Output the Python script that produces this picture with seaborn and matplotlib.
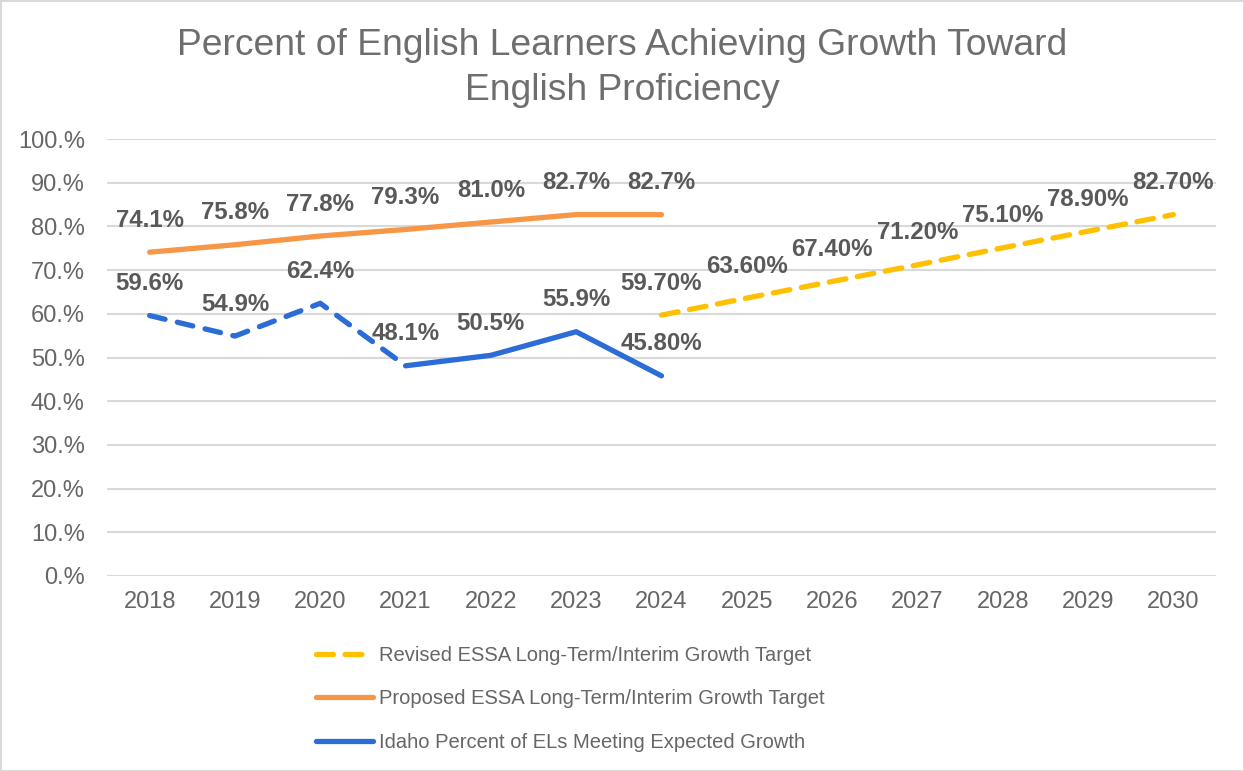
import matplotlib
matplotlib.use("Agg")
import matplotlib.pyplot as plt
import seaborn as sns
import pandas as pd

# ---- data ----
years = [2018, 2019, 2020, 2021, 2022, 2023, 2024, 2025, 2026, 2027, 2028, 2029, 2030]
revised_years = [2024, 2025, 2026, 2027, 2028, 2029, 2030]
revised_values = [59.7, 63.6, 67.4, 71.2, 75.1, 78.9, 82.7]
proposed_years = [2018, 2019, 2020, 2021, 2022, 2023, 2024]
proposed_values = [74.1, 75.8, 77.8, 79.3, 81.0, 82.7, 82.7]
idaho_years = [2018, 2019, 2020, 2021, 2022, 2023, 2024]
idaho_values = [59.6, 54.9, 62.4, 48.1, 50.5, 55.9, 45.8]
idaho_label_formats = ["{:.1f}%"] * 6 + ["{:.2f}%"]
idaho_dashed_until = 2021  # dashed segment 2018-2021, solid afterwards
ytick_values = [0, 10, 20, 30, 40, 50, 60, 70, 80, 90, 100]
ytick_labels = ["0.%", "10.%", "20.%", "30.%", "40.%", "50.%", "60.%", "70.%", "80.%", "90.%", "100.%"]
series_names = [
    "Revised ESSA Long-Term/Interim Growth Target",
    "Proposed ESSA Long-Term/Interim Growth Target",
    "Idaho Percent of ELs Meeting Expected Growth",
]
title = "Percent of English Learners Achieving Growth Toward\nEnglish Proficiency"

# ---- style ----
sns.set_theme(style="white")
plt.rcParams["font.family"] = ["Liberation Sans", "DejaVu Sans"]

YELLOW = "#FFC000"
ORANGE = "#F79646"
BLUE = "#2B6CD6"
LABEL = "#595959"
TICK = "#666666"
GRID = "#D9D9D9"
LW = 3.8

fig = plt.figure(figsize=(12.44, 7.71), dpi=100)
fig.patch.set_facecolor("white")
fig.patch.set_edgecolor("#D9D9D9")
fig.patch.set_linewidth(2)
ax = fig.add_axes([107 / 1244, 1 - 576 / 771, (1216 - 107) / 1244, (576 - 139) / 771])

rev = pd.DataFrame({"year": revised_years, "value": revised_values})
pro = pd.DataFrame({"year": proposed_years, "value": proposed_values})
ida = pd.DataFrame({"year": idaho_years, "value": idaho_values})
ida_dash = ida[ida["year"] <= idaho_dashed_until]
ida_solid = ida[ida["year"] >= idaho_dashed_until]

sns.lineplot(data=rev, x="year", y="value", ax=ax, color=YELLOW, lw=LW,
             label=series_names[0])
sns.lineplot(data=pro, x="year", y="value", ax=ax, color=ORANGE, lw=LW,
             label=series_names[1])
sns.lineplot(data=ida_dash, x="year", y="value", ax=ax, color=BLUE, lw=LW)
sns.lineplot(data=ida_solid, x="year", y="value", ax=ax, color=BLUE, lw=LW,
             label=series_names[2])

lines = ax.get_lines()
lines[0].set_dashes([3.2, 2.2])
lines[0].set_dash_capstyle("round")
lines[2].set_dashes([3.0, 2.4])
lines[2].set_dash_capstyle("round")
for ln in lines:
    ln.set_solid_capstyle("round")
    ln.set_solid_joinstyle("round")

# data labels
def add_labels(xs, vs, fmts):
    for x, v, fmt in zip(xs, vs, fmts):
        ax.annotate(fmt.format(v), (x, v), xytext=(0, 23), textcoords="offset points",
                    ha="center", va="center", fontsize=17.3, fontweight="bold", color=LABEL)

add_labels(revised_years, revised_values, ["{:.2f}%"] * len(revised_values))
add_labels(proposed_years, proposed_values, ["{:.1f}%"] * len(proposed_values))
add_labels(idaho_years, idaho_values, idaho_label_formats)

# axes
ax.set_xlim(years[0] - 0.5, years[-1] + 0.5)
ax.set_ylim(0, 100)
ax.set_xticks(years)
ax.set_xticklabels([str(y) for y in years])
ax.set_yticks(ytick_values)
ax.set_yticklabels(ytick_labels)
ax.set_xlabel("")
ax.set_ylabel("")
ax.tick_params(axis="both", length=0, labelsize=17, colors=TICK)
ax.tick_params(axis="y", pad=16)
ax.tick_params(axis="x", pad=11)
ax.grid(axis="y", color=GRID, lw=1.5)
ax.grid(axis="x", visible=False)
ax.set_axisbelow(True)
for s in ax.spines.values():
    s.set_visible(False)

# legend
handles, labels = ax.get_legend_handles_labels()
if ax.legend_:
    ax.legend_.remove()
fig.legend(handles, labels, loc="center left", bbox_to_anchor=(316 / 1244, 1 - 699 / 771),
           frameon=False, fontsize=14.5, handlelength=2.83, handletextpad=0.3,
           labelspacing=1.22, labelcolor=TICK, borderpad=0, borderaxespad=0)

fig.text(0.5, 1 - 68 / 771, title, ha="center", va="center", fontsize=26.8,
         color="#6E6E6E", linespacing=1.36)

fig.savefig("out.png", dpi=100, facecolor=fig.get_facecolor(), edgecolor=fig.get_edgecolor())
